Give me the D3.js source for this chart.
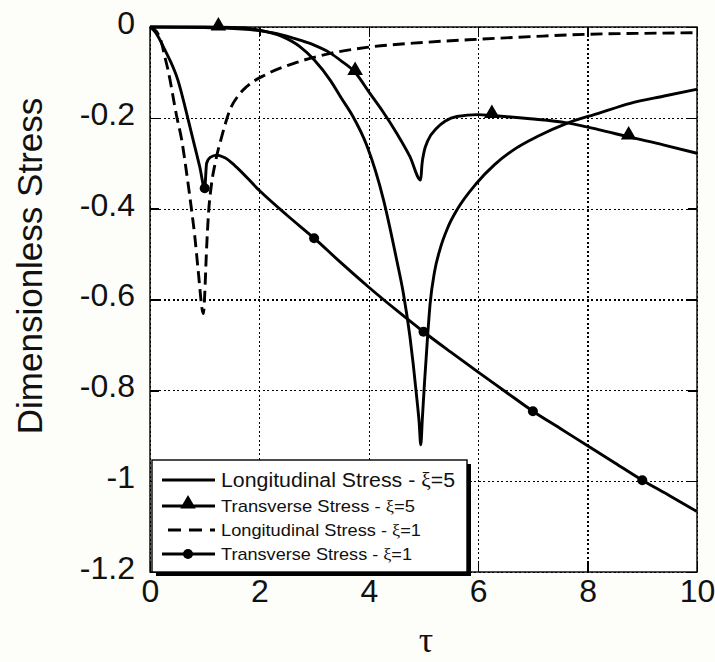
<!DOCTYPE html>
<html>
<head>
<meta charset="utf-8">
<script src="https://cdn.jsdelivr.net/npm/d3@7"></script>
<style>
  body { margin: 0; background: #fdfdfa; }
  svg { display: block; }
  .tick-label { font-family: "Liberation Sans", Arial, sans-serif; font-size: 32px; fill: #111; }
</style>
</head>
<body>
<div id="chart"></div>
<script>
// ---- data ----
const xTicks = [0, 2, 4, 6, 8, 10];
const xTickLabels = ["0", "2", "4", "6", "8", "10"];
const yTicks = [0, -0.2, -0.4, -0.6, -0.8, -1, -1.2];
const yTickLabels = ["0", "-0.2", "-0.4", "-0.6", "-0.8", "-1", "-1.2"];

// Longitudinal Stress - xi=5 (solid)
const tauL5 = [0, 1, 1.5, 1.8, 2, 2.4, 2.74, 3, 3.3, 3.5, 3.7, 3.96, 4.27, 4.51, 4.63, 4.75, 4.81, 4.88, 4.92, 4.95,
  4.98, 5.02, 5.07, 5.12, 5.2, 5.3, 5.45, 5.61, 5.97, 6.3, 6.64, 7.1, 7.62, 8.2, 8.78, 9.4, 10];
const longXi5 = [0, 0, -0.001, -0.003, -0.007, -0.02, -0.043, -0.072, -0.118, -0.157, -0.195, -0.26, -0.381, -0.513, -0.585, -0.68, -0.74, -0.82, -0.87, -0.92,
  -0.86, -0.78, -0.69, -0.61, -0.54, -0.49, -0.44, -0.403, -0.344, -0.303, -0.271, -0.24, -0.212, -0.19, -0.168, -0.152, -0.137];

// Transverse Stress - xi=5 (triangles)
const tauT5 = [0, 1, 1.25, 2, 2.5, 2.74, 3, 3.29, 3.5, 3.75, 4.02, 4.25, 4.51, 4.75, 4.95, 4.97, 5.01, 5.08, 5.24, 5.4, 5.61, 6, 6.25, 6.95, 7.62, 8.2, 8.75, 9.4, 10];
const transXi5 = [0, -0.001, -0.002, -0.008, -0.02, -0.029, -0.04, -0.057, -0.075, -0.1, -0.146, -0.185, -0.234, -0.285, -0.337, -0.305, -0.275, -0.25, -0.223, -0.207, -0.197, -0.193, -0.195, -0.202, -0.211, -0.226, -0.242, -0.26, -0.278];
const markT5 = [1.25, 3.75, 6.25, 8.75];

// Longitudinal Stress - xi=1 (dashed)
const tauL1 = [0, 0.12, 0.2, 0.27, 0.33, 0.49, 0.58, 0.67, 0.76, 0.82, 0.88, 0.975, 1.0, 1.03, 1.07, 1.12, 1.2, 1.31, 1.46, 1.62, 1.77, 2.13, 2.68, 3.3, 3.96, 5, 6, 7, 8, 9, 10];
const longXi1 = [0, -0.01, -0.03, -0.065, -0.095, -0.198, -0.249, -0.322, -0.403, -0.462, -0.535, -0.631, -0.59, -0.5, -0.41, -0.35, -0.295, -0.242, -0.183, -0.15, -0.131, -0.104, -0.078, -0.058, -0.045, -0.034, -0.027, -0.021, -0.016, -0.014, -0.0125];

// Transverse Stress - xi=1 (circles)
const tauT1 = [0, 0.1, 0.27, 0.51, 0.7, 0.82, 0.91, 1.0, 1.035, 1.1, 1.22, 1.37, 1.55, 2, 2.5, 3, 3.5, 4, 4.5, 5, 5.5, 6, 6.5, 7, 7.5, 8, 8.5, 9, 9.5, 10];
const transXi1 = [0, -0.012, -0.05, -0.117, -0.205, -0.264, -0.308, -0.355, -0.3, -0.287, -0.282, -0.288, -0.305, -0.36, -0.414, -0.465, -0.52, -0.573, -0.623, -0.671, -0.716, -0.76, -0.803, -0.846, -0.884, -0.922, -0.96, -0.998, -1.032, -1.067];
const markT1 = [1, 3, 5, 7, 9];

const legendLabels = ["Longitudinal Stress -  ", "Transverse Stress - ", "Longitudinal Stress - ", "Transverse Stress - "];
const legendXi = ["5", "5", "1", "1"];

// ---- layout ----
const width = 715, height = 662;
const margin = {top: 27, right: 18, bottom: 90, left: 150};
const innerWidth = width - margin.left - margin.right;
const innerHeight = height - margin.top - margin.bottom;

const svg = d3.select("#chart").append("svg")
  .attr("width", width)
  .attr("height", height);

const xScale = d3.scaleLinear().domain([0, 10]).range([0, innerWidth]);
const yScale = d3.scaleLinear().domain([-1.2, 0]).range([innerHeight, 0]);

const g = svg.append("g")
  .attr("transform", `translate(${margin.left},${margin.top})`);

g.append("rect").attr("width", innerWidth).attr("height", innerHeight).attr("fill", "#fff");

// dotted grid
const xGrid = g.append("g")
  .attr("transform", `translate(0,${innerHeight})`)
  .call(d3.axisBottom(xScale).tickValues(xTicks).tickSize(-innerHeight).tickFormat(""));
const yGrid = g.append("g")
  .call(d3.axisLeft(yScale).tickValues(yTicks).tickSize(-innerWidth).tickFormat(""));
[xGrid, yGrid].forEach(a => {
  a.select(".domain").remove();
  a.selectAll("line")
    .attr("stroke", "#000").attr("stroke-width", 1.2)
    .attr("stroke-dasharray", "2,2.5")
    .attr("shape-rendering", "crispEdges");
});

// inner solid tick marks on all four sides
const tk = 9;
const ticks = [
  d3.axisBottom(xScale).tickValues(xTicks).tickSize(-tk).tickFormat(""),
  d3.axisTop(xScale).tickValues(xTicks).tickSize(-tk).tickFormat(""),
  d3.axisLeft(yScale).tickValues(yTicks).tickSize(-tk).tickFormat(""),
  d3.axisRight(yScale).tickValues(yTicks).tickSize(-tk).tickFormat("")
];
const tickPos = [`translate(0,${innerHeight})`, "translate(0,0)", "translate(0,0)", `translate(${innerWidth},0)`];
ticks.forEach((ax, i) => {
  const a = g.append("g").attr("transform", tickPos[i]).call(ax);
  a.select(".domain").remove();
  a.selectAll("line").attr("stroke", "#000").attr("stroke-width", 1.4).attr("shape-rendering", "crispEdges");
});

// tick labels
const xLab = g.append("g")
  .attr("transform", `translate(0,${innerHeight})`)
  .call(d3.axisBottom(xScale).tickValues(xTicks).tickSize(0).tickPadding(7)
    .tickFormat((d, i) => xTickLabels[i]));
xLab.select(".domain").remove();
xLab.selectAll("text").attr("class", "tick-label").attr("fill", "#111").attr("dy", "0.72em");

const yLab = g.append("g")
  .call(d3.axisLeft(yScale).tickValues(yTicks).tickSize(0).tickPadding(15)
    .tickFormat((d, i) => yTickLabels[i]));
yLab.select(".domain").remove();
yLab.selectAll("text").attr("class", "tick-label").attr("fill", "#111").attr("dy", "0.2em");

// axis titles
svg.append("text")
  .attr("transform", "translate(42,266) rotate(-90)")
  .attr("text-anchor", "middle")
  .style("font-family", "'Liberation Sans', Arial, sans-serif")
  .style("font-size", "35px")
  .attr("fill", "#111")
  .text("Dimensionless Stress");

svg.append("text")
  .attr("x", 426).attr("y", 652)
  .attr("text-anchor", "middle")
  .style("font-family", "'Liberation Serif', 'Times New Roman', serif")
  .style("font-size", "36px")
  .attr("fill", "#111")
  .text("τ");

// ---- curves ----
const series = [
  {tau: tauL5, vals: longXi5, dash: null},
  {tau: tauT5, vals: transXi5, dash: null},
  {tau: tauL1, vals: longXi1, dash: "12,6"},
  {tau: tauT1, vals: transXi1, dash: null}
];

const lineGen = d3.line()
  .x(d => xScale(d[0]))
  .y(d => yScale(d[1]))
  .curve(d3.curveMonotoneX);

g.append("clipPath").attr("id", "plotclip")
  .append("rect").attr("x", -2).attr("y", -2).attr("width", innerWidth + 4).attr("height", innerHeight + 4);

const curves = g.append("g").attr("clip-path", "url(#plotclip)");
series.forEach(s => {
  const pts = s.tau.map((t, i) => [t, s.vals[i]]);
  curves.append("path")
    .attr("d", lineGen(pts))
    .attr("fill", "none")
    .attr("stroke", "#000")
    .attr("stroke-width", 2.9)
    .attr("stroke-linejoin", "round")
    .attr("stroke-dasharray", s.dash);
});

// plot frame
g.append("rect")
  .attr("width", innerWidth).attr("height", innerHeight)
  .attr("fill", "none").attr("stroke", "#000").attr("stroke-width", 1.4);

// markers (drawn over the frame, not clipped)
const triangle = d3.symbol().type(d3.symbolTriangle).size(105);
g.selectAll(".tri").data(markT5).join("path")
  .attr("class", "tri")
  .attr("d", triangle)
  .attr("transform", t => `translate(${xScale(t)},${yScale(transXi5[tauT5.indexOf(t)]) - 2})`)
  .attr("fill", "#000");

g.selectAll(".dot").data(markT1).join("circle")
  .attr("class", "dot")
  .attr("cx", t => xScale(t))
  .attr("cy", t => yScale(transXi1[tauT1.indexOf(t)]))
  .attr("r", 5)
  .attr("fill", "#000");

// ---- legend ----
const lg = svg.append("g").attr("transform", "translate(152,460)");
const lgW = 315, lgH = 112;
lg.append("rect").attr("x", 4).attr("y", 4).attr("width", lgW).attr("height", lgH).attr("fill", "#000");
lg.append("rect").attr("width", lgW).attr("height", lgH).attr("fill", "#fff").attr("stroke", "#000").attr("stroke-width", 1.4);

const rowY = [20, 46, 70, 94];
const rowFont = [20, 17, 17, 17];
const rowLen = [234, 194, 200, 191];
legendLabels.forEach((lab, i) => {
  const y = rowY[i];
  lg.append("line")
    .attr("x1", 10).attr("x2", 63).attr("y1", y).attr("y2", y)
    .attr("stroke", "#000").attr("stroke-width", 2.9)
    .attr("stroke-dasharray", series[i].dash ? "13,8" : null)
    .attr("stroke-dashoffset", series[i].dash ? -6 : null);
  if (i === 1) {
    lg.append("path").attr("d", triangle).attr("transform", `translate(36,${y - 2})`).attr("fill", "#000");
  }
  if (i === 3) {
    lg.append("circle").attr("cx", 36).attr("cy", y).attr("r", 5).attr("fill", "#000");
  }
  const t = lg.append("text")
    .attr("x", 69).attr("y", y + rowFont[i] * 0.36)
    .attr("textLength", rowLen[i])
    .attr("lengthAdjust", "spacingAndGlyphs")
    .style("font-family", "'Liberation Sans', Arial, sans-serif")
    .style("font-size", rowFont[i] + "px")
    .attr("fill", "#111");
  t.append("tspan").text(lab);
  t.append("tspan").style("font-family", "'Liberation Serif', serif").text("ξ");
  t.append("tspan").text("=" + legendXi[i]);
});
</script>
</body>
</html>
